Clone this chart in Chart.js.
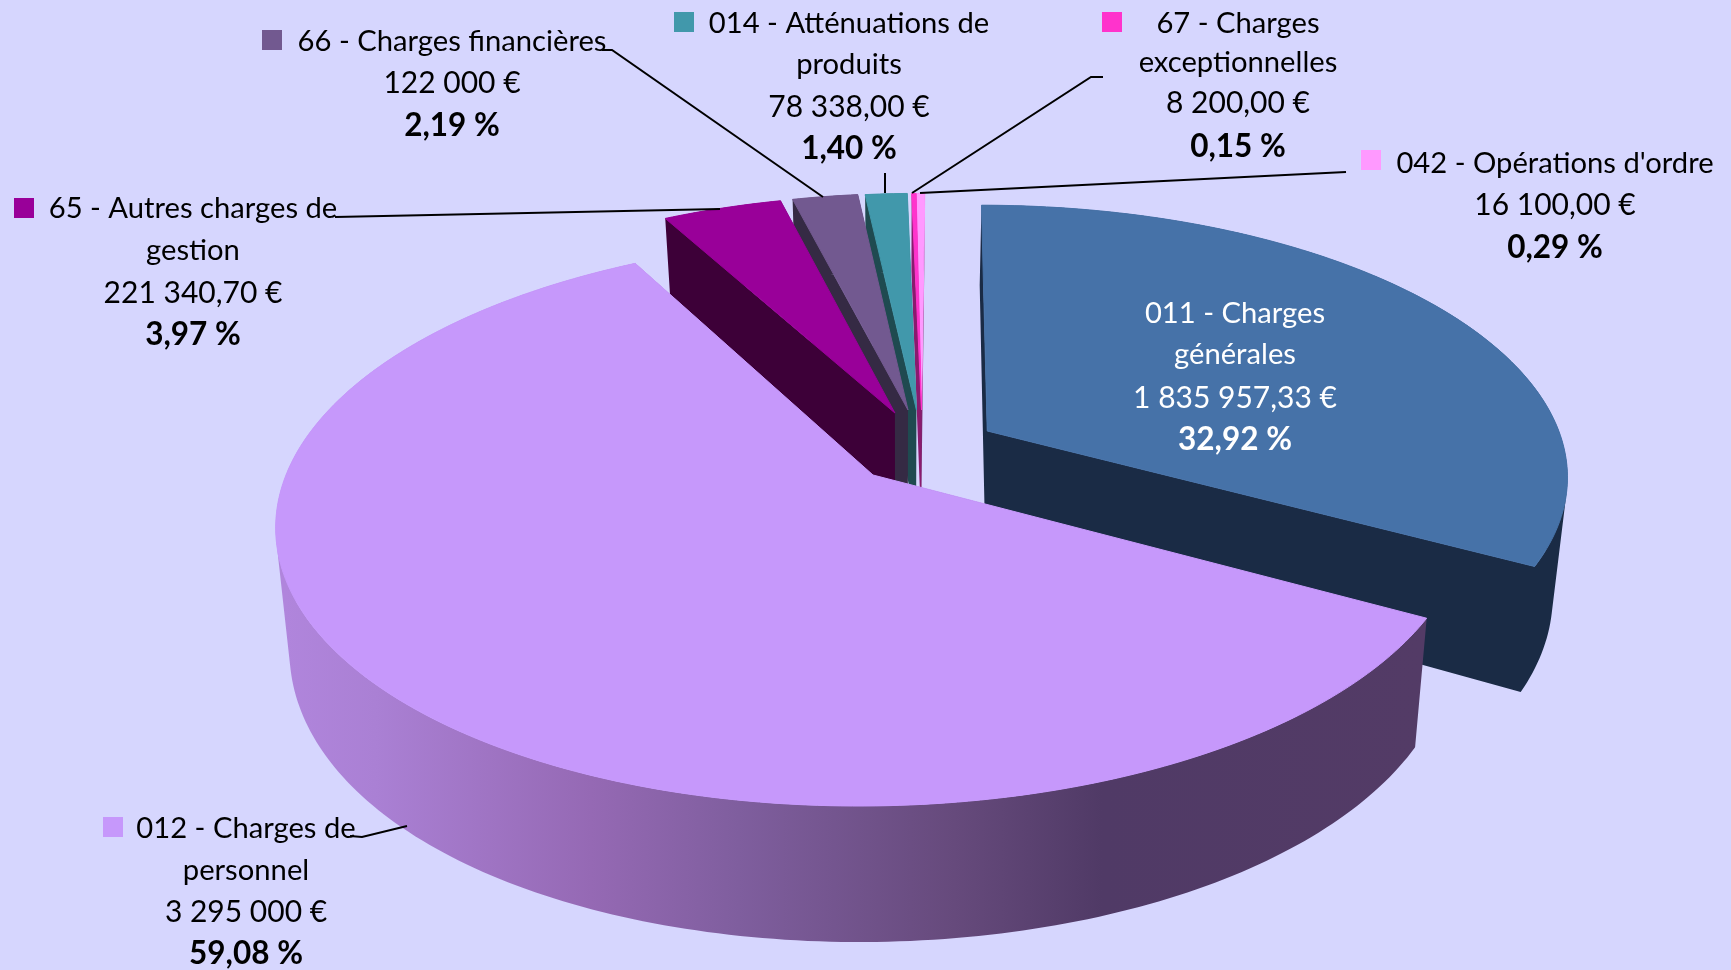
<!DOCTYPE html>
<html>
<head>
<meta charset="utf-8">
<title>Dépenses de fonctionnement</title>
<script src="https://cdn.jsdelivr.net/npm/chart.js@4"></script>
<style>
  html, body { margin: 0; padding: 0; background: #d6d6fe; }
  canvas { display: block; }
</style>
</head>
<body>
<canvas id="myChart" width="1731" height="970"></canvas>
<script>
const categories = ['011 - Charges générales', '012 - Charges de personnel', '65 - Autres charges de gestion',
  '66 - Charges financières', '014 - Atténuations de produits', '67 - Charges exceptionnelles', "042 - Opérations d'ordre"];
const values = [1835957.33, 3295000, 221340.70, 122000, 78338, 8200, 16100];
const valueLabels = ['1 835 957,33 €', '3 295 000 €', '221 340,70 €', '122 000 €', '78 338,00 €', '8 200,00 €', '16 100,00 €'];
const percentLabels = ['32,92 %', '59,08 %', '3,97 %', '2,19 %', '1,40 %', '0,15 %', '0,29 %'];
const topColors = ['#4672a8', '#c698fb', '#990099', '#725990', '#4198ab', '#ff33cc', '#ff99ff'];
const wallColors = ['#1a2b45', '#8a66a8', '#3d0038', '#352a44', '#1f4a50', '#8a1a6e', '#7a2a70'];

// wrapped label lines, as they are broken in the picture
const nameLines = [
  ['011 - Charges', 'générales'],
  ['012 - Charges de', 'personnel'],
  ['65 - Autres charges de', 'gestion'],
  ['66 - Charges financières'],
  ['014 - Atténuations de', 'produits'],
  ['67 - Charges', 'exceptionnelles'],
  ["042 - Opérations d'ordre"]
];

// label layout: centre x and baseline of each line, legend square
const labelBoxes = [
  { x: 1235, y: [323, 364, 408, 450], color: '#ffffff' },
  { x: 246, y: [838, 880, 922, 964], key: [103, 817] },
  { x: 193, y: [218, 260, 303, 345], key: [14, 198] },
  { x: 452, y: [51, 93, 136], key: [262, 30] },
  { x: 849, y: [33, 74, 117, 159], key: [674, 12] },
  { x: 1238, y: [33, 72, 113, 157], key: [1102, 12] },
  { x: 1555, y: [173, 215, 258], key: [1361, 150] }
];

// leader lines from labels to slices
const leaders = [
  [[335, 217], [720, 209]],
  [[602, 50], [612, 50], [823, 197]],
  [[885, 173], [885, 193]],
  [[1103, 77], [1091, 77], [912, 193]],
  [[920, 193], [1346, 172]],
  [[350, 836], [362, 837], [407, 826]]
];

// how far each slice is pulled out, in pie radii, and its radius
const sliceShift = [[0.1965, 0.1635], [0, 0], [0.034, 0.2329], [0.057, 0.2449], [0.072, 0.2449], [0.081, 0.2449], [0.081, 0.2449]];
const sliceRadius = [1, 1, 0.985, 0.98, 0.98, 0.98, 0.98];
const drawOrder = [6, 5, 4, 3, 2, 0, 1];

// perspective of the top face, and how the bottom face sits under it
const topFace = { cx: 873, cy: 475, r: 587, q: 276.4, p: 0.165, s: 12 };
const bottomFace = { cy: 592.6, q: 304, p: 0.13, vanishX: 900, shrink: 0.978 };

function projectTop(x, y) {
  const w = 1 + topFace.p * y;
  return [topFace.cx + (topFace.r * x + topFace.s * y) / w, topFace.cy - topFace.q * y / w];
}

function projectBottom(x, y) {
  const b = bottomFace;
  return [b.vanishX + b.shrink * (projectTop(x, y)[0] - b.vanishX), b.cy - b.q * y / (1 + b.p * y)];
}

// outline of a slice in pie units, apex first
function sliceOutline(el, i) {
  const pts = [[sliceShift[i][0], sliceShift[i][1]]];
  const steps = Math.max(4, Math.ceil((el.endAngle - el.startAngle) * 60));
  for (let k = 0; k <= steps; k++) {
    const a = el.startAngle + (el.endAngle - el.startAngle) * k / steps;
    pts.push([sliceShift[i][0] + sliceRadius[i] * Math.cos(a), sliceShift[i][1] - sliceRadius[i] * Math.sin(a)]);
  }
  return pts;
}

function wallPaint(ctx, i) {
  if (i !== 1) return wallColors[i];
  const g = ctx.createLinearGradient(285, 0, 1420, 0);
  g.addColorStop(0, '#b085dc');
  g.addColorStop(0.08, '#aa80d4');
  g.addColorStop(0.27, '#9569b4');
  g.addColorStop(0.4, '#7f5e9e');
  g.addColorStop(0.59, '#664a7c');
  g.addColorStop(0.72, '#503a66');
  g.addColorStop(1, '#533b66');
  return g;
}

function addPolygon(ctx, pts) {
  pts.forEach((q, n) => n ? ctx.lineTo(q[0], q[1]) : ctx.moveTo(q[0], q[1]));
  ctx.closePath();
}

// all strips turn the same way, so that one fill() leaves no seams between them
function clockwise(quad) {
  let area = 0;
  quad.forEach((q, n) => {
    const r = quad[(n + 1) % quad.length];
    area += q[0] * r[1] - r[0] * q[1];
  });
  return area < 0 ? quad.reverse() : quad;
}

const perspectivePie = {
  id: 'perspectivePie',
  beforeDatasetDraw(chart, args) {
    const ctx = chart.ctx;
    const arcs = chart.getDatasetMeta(args.index).data;
    ctx.save();
    ctx.lineJoin = 'round';
    drawOrder.forEach(i => {
      const pts = sliceOutline(arcs[i], i);
      // side wall
      ctx.beginPath();
      pts.forEach((a, k) => {
        const b = pts[(k + 1) % pts.length];
        addPolygon(ctx, clockwise([projectTop(a[0], a[1]), projectTop(b[0], b[1]), projectBottom(b[0], b[1]), projectBottom(a[0], a[1])]));
      });
      ctx.fillStyle = wallPaint(ctx, i);
      ctx.fill();
      // top face
      ctx.beginPath();
      addPolygon(ctx, pts.map(a => projectTop(a[0], a[1])));
      ctx.fillStyle = topColors[i];
      ctx.fill();
      ctx.strokeStyle = topColors[i];
      ctx.lineWidth = 1;
      ctx.stroke();
    });
    ctx.restore();
    return false;
  },
  afterDatasetsDraw(chart) {
    const ctx = chart.ctx;
    ctx.save();
    ctx.strokeStyle = '#000000';
    ctx.lineWidth = 2;
    leaders.forEach(line => {
      ctx.beginPath();
      line.forEach((q, n) => n ? ctx.lineTo(q[0], q[1]) : ctx.moveTo(q[0], q[1]));
      ctx.stroke();
    });
    ctx.textAlign = 'center';
    ctx.textBaseline = 'alphabetic';
    labelBoxes.forEach((box, i) => {
      const names = nameLines[i].length;
      const lines = nameLines[i].concat(valueLabels[i], percentLabels[i]);
      ctx.fillStyle = box.color || '#000000';
      lines.forEach((text, n) => {
        if (n === lines.length - 1) ctx.font = 'bold 31.5px Lato';
        else if (n >= names) ctx.font = '30px Lato';
        else ctx.font = '29.2px Lato';
        ctx.fillText(text, box.x, box.y[n]);
      });
      if (box.key) {
        ctx.fillStyle = topColors[i];
        ctx.fillRect(box.key[0], box.key[1], 20, 20);
      }
    });
    ctx.restore();
  }
};

const myChart = new Chart(document.getElementById('myChart').getContext('2d'), {
  type: 'pie',
  data: {
    labels: categories,
    datasets: [{ label: 'Dépenses', data: values, backgroundColor: topColors, borderWidth: 0 }]
  },
  options: {
    responsive: false,
    animation: false,
    rotation: 0,
    plugins: { legend: { display: false }, tooltip: { enabled: false } }
  },
  plugins: [perspectivePie]
});
</script>
</body>
</html>
